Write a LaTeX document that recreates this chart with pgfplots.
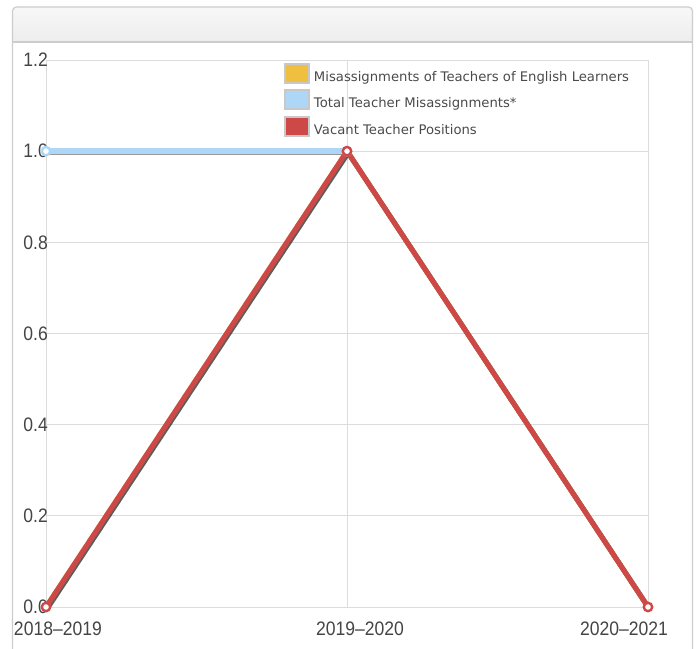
\documentclass[border=0pt]{standalone}
\usepackage{fontspec}
\setmainfont{DejaVu Sans}
\newfontfamily\tickfont[FakeStretch=0.9]{Liberation Sans}
\usepackage{pgfplots}
\pgfplotsset{compat=1.18}
\definecolor{frame}{HTML}{CCCCCC}
\definecolor{gridc}{HTML}{DCDCDC}
\definecolor{elyellow}{HTML}{EFC040}
\definecolor{totblue}{HTML}{AED6F7}
\definecolor{vacred}{HTML}{CE4848}
\definecolor{swb}{HTML}{C8C8C8}
\definecolor{ticktext}{HTML}{444444}
\definecolor{legtext}{HTML}{4A4A4A}
\begin{document}
\begin{tikzpicture}
\path[use as bounding box] (0,0) rectangle (699bp,649bp);
% panel frame and header
\shade[top color=white!97!black, bottom color=white!93!black, rounded corners=4bp]
  (12.5bp,607bp) -- (12.5bp,642bp) -- (692.5bp,642bp) -- (692.5bp,607bp) -- cycle;
\draw[frame, line width=1.2bp, rounded corners=4bp] (12.5bp,-5bp) -- (12.5bp,642bp) -- (692.5bp,642bp) -- (692.5bp,-5bp);
\draw[frame, line width=1.2bp] (12.5bp,607bp) -- (692.5bp,607bp);
\begin{axis}[
  at={(46bp,42bp)}, anchor=south west,
  scale only axis, width=602bp, height=547bp,
  xmin=0, xmax=2, ymin=0, ymax=1.2,
  clip=false,
  xtick={0,1,2},
  xticklabels={\makebox[0pt][l]{\hspace*{-32bp}2018–2019},
               \makebox[0pt][l]{\hspace*{-31bp}2019–2020},
               \makebox[0pt][r]{2020–2021\hspace*{-20bp}}},
  ytick={0,0.2,0.4,0.6,0.8,1.0,1.2},
  yticklabel style={/pgf/number format/fixed, /pgf/number format/fixed zerofill, /pgf/number format/precision=1},
  /pgf/number format/assume math mode=true,
  tick label style={font=\tickfont\fontsize{19.5bp}{19.5bp}\selectfont, text=ticktext, inner sep=0pt},
  yticklabel style={anchor=east, xshift=2bp},
  xticklabel style={anchor=north, yshift=-15bp},
  major tick length=0pt,
  grid=major,
  major grid style={gridc, line width=0.8bp},
  axis line style={gridc, line width=0.8bp},
  legend style={at={(0.3953,0.9945)}, anchor=north west, draw=none, fill=none,
    inner sep=0pt, outer sep=0pt, row sep=5.5bp, column sep=4bp,
    font=\fontsize{13.2bp}{13.2bp}\selectfont, text=legtext,
    nodes={inner sep=0pt}},
  legend cell align=left,
]
% shadows and series
\addplot[forget plot, draw=black, opacity=0.4, line width=5bp, shift={(1.2bp,-1.6bp)}] coordinates {(0,0) (1,1) (2,0)};
\addplot[forget plot, draw=elyellow, line width=5bp] coordinates {(0,0) (1,1) (2,0)};
\addplot[forget plot, draw=black, opacity=0.4, line width=5bp, shift={(1.2bp,-1.6bp)}] coordinates {(0,1) (1,1)};
\addplot[forget plot, draw=totblue, line width=5.5bp, mark=*, mark size=4.2bp, mark options={fill=white, draw=totblue, line width=2.4bp}] coordinates {(0,1) (1,1)};
\addplot[forget plot, draw=black, opacity=0.4, line width=5bp, shift={(1.2bp,-1.6bp)}] coordinates {(0,0) (1,1) (2,0)};
\addplot[forget plot, draw=vacred, line width=5bp, mark=*, mark size=4.2bp, mark options={fill=white, draw=vacred, line width=2.4bp}] coordinates {(0,0) (1,1) (2,0)};
% legend
\addlegendimage{legend image code/.code={\draw[draw=swb, line width=2bp, fill=elyellow] (1bp,-2bp) rectangle (25bp,17bp);}}
\addlegendentry[yshift=4bp]{Misassignments of Teachers of English Learners}
\addlegendimage{legend image code/.code={\draw[draw=swb, line width=2bp, fill=totblue] (1bp,-2bp) rectangle (25bp,17bp);}}
\addlegendentry[yshift=4bp]{Total Teacher Misassignments*}
\addlegendimage{legend image code/.code={\draw[draw=swb, line width=2bp, fill=vacred] (1bp,-2bp) rectangle (25bp,17bp);}}
\addlegendentry[yshift=4bp]{Vacant Teacher Positions}
\end{axis}
\end{tikzpicture}
\end{document}
